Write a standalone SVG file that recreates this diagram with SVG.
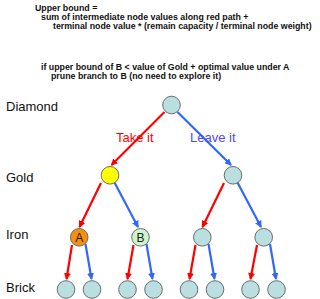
<svg xmlns="http://www.w3.org/2000/svg" width="320" height="299" viewBox="0 0 320 299">
<defs>
<style>
.note{font-family:"Liberation Sans",Arial,sans-serif;font-size:8.8px;font-weight:bold;fill:#111}
.lvl{font-family:"Liberation Sans",Arial,sans-serif;font-size:13px;fill:#111}
.edge{stroke-width:2.2;fill:none}
.red{stroke:#ff0000}
.blue{stroke:#3366ff}
.n{stroke:#6b6b6b;stroke-width:1}
.plain{fill:#b9dfe1}
.lab{font-family:"Liberation Sans",Arial,sans-serif;font-size:12px;fill:#222;text-anchor:middle}
</style>
<marker id="ar" markerUnits="userSpaceOnUse" markerWidth="8" markerHeight="7" refX="6" refY="3.5" orient="auto"><path d="M0,0 L7,3.5 L0,7 z" fill="#ff0000"/></marker>
<marker id="ab" markerUnits="userSpaceOnUse" markerWidth="8" markerHeight="7" refX="6" refY="3.5" orient="auto"><path d="M0,0 L7,3.5 L0,7 z" fill="#3366ff"/></marker>
</defs>
<rect width="320" height="299" fill="#ffffff"/>
<g id="notes">
<text class="note" x="35" y="11">Upper bound =</text>
<text class="note" x="41" y="20">sum of intermediate node values along red path +</text>
<text class="note" x="53" y="29">terminal node value * (remain capacity / terminal node weight)</text>
<text class="note" x="41" y="70">if upper bound of B &lt; value of Gold + optimal value under A</text>
<text class="note" x="51" y="79">prune branch to B (no need to explore it)</text>
</g>
<g id="levels">
<text class="lvl" x="6" y="110.5">Diamond</text>
<text class="lvl" x="6" y="181.5">Gold</text>
<text class="lvl" x="6" y="239">Iron</text>
<text class="lvl" x="6" y="292">Brick</text>
</g>
<g id="connectors">
<line class="edge red" x1="164.5" y1="112" x2="111.5" y2="165" marker-end="url(#ar)"/>
<line class="edge blue" x1="177.5" y1="112" x2="231" y2="165" marker-end="url(#ab)"/>
<line class="edge red" x1="101" y1="183" x2="79.5" y2="227" marker-end="url(#ar)"/>
<line class="edge blue" x1="114.5" y1="182.5" x2="138" y2="227" marker-end="url(#ab)"/>
<line class="edge red" x1="224" y1="183" x2="202.5" y2="227" marker-end="url(#ar)"/>
<line class="edge blue" x1="237.5" y1="182.5" x2="261" y2="227" marker-end="url(#ab)"/>
<line class="edge red" x1="72" y1="245" x2="66.5" y2="279" marker-end="url(#ar)"/>
<line class="edge blue" x1="85.5" y1="244" x2="91.5" y2="279" marker-end="url(#ab)"/>
<line class="edge red" x1="133.5" y1="245" x2="127.5" y2="279" marker-end="url(#ar)"/>
<line class="edge blue" x1="146.5" y1="244" x2="152.5" y2="279" marker-end="url(#ab)"/>
<line class="edge red" x1="195.5" y1="245" x2="189.5" y2="279" marker-end="url(#ar)"/>
<line class="edge blue" x1="208.5" y1="244" x2="214.5" y2="279" marker-end="url(#ab)"/>
<line class="edge red" x1="257" y1="245" x2="250.5" y2="279" marker-end="url(#ar)"/>
<line class="edge blue" x1="270" y1="244" x2="276" y2="279" marker-end="url(#ab)"/>
<text x="116" y="142" font-family="Liberation Sans, Arial, sans-serif" font-size="13" fill="#ff0000">Take it</text>
<text x="190" y="142" font-family="Liberation Sans, Arial, sans-serif" font-size="13" fill="#4a4aff">Leave it</text>
</g>
<g id="diamond"><circle class="n plain" cx="171.5" cy="105" r="8.8"/></g>
<g id="gold-take"><circle class="n" cx="110" cy="175.3" r="8.8" fill="#ffff00"/></g>
<g id="gold-leave"><circle class="n plain" cx="233" cy="175.3" r="8.8"/></g>
<g id="iron-a"><circle class="n" cx="79.2" cy="237.3" r="8.8" fill="#f7900d"/><text class="lab" x="79.2" y="241.8">A</text></g>
<g id="iron-b"><circle class="n" cx="140.5" cy="237.3" r="8.8" fill="#ccf5cc"/><text class="lab" x="140.5" y="241.8">B</text></g>
<g id="iron-c"><circle class="n plain" cx="202.3" cy="237.3" r="8.8"/></g>
<g id="iron-d"><circle class="n plain" cx="263.7" cy="237.3" r="8.8"/></g>
<g id="brick-1"><circle class="n plain" cx="66" cy="289.5" r="8.8"/></g>
<g id="brick-2"><circle class="n plain" cx="92" cy="289.5" r="8.8"/></g>
<g id="brick-3"><circle class="n plain" cx="127.5" cy="289.5" r="8.8"/></g>
<g id="brick-4"><circle class="n plain" cx="153.5" cy="289.5" r="8.8"/></g>
<g id="brick-5"><circle class="n plain" cx="189" cy="289.5" r="8.8"/></g>
<g id="brick-6"><circle class="n plain" cx="215" cy="289.5" r="8.8"/></g>
<g id="brick-7"><circle class="n plain" cx="250.5" cy="289.5" r="8.8"/></g>
<g id="brick-8"><circle class="n plain" cx="276.5" cy="289.5" r="8.8"/></g>
</svg>
